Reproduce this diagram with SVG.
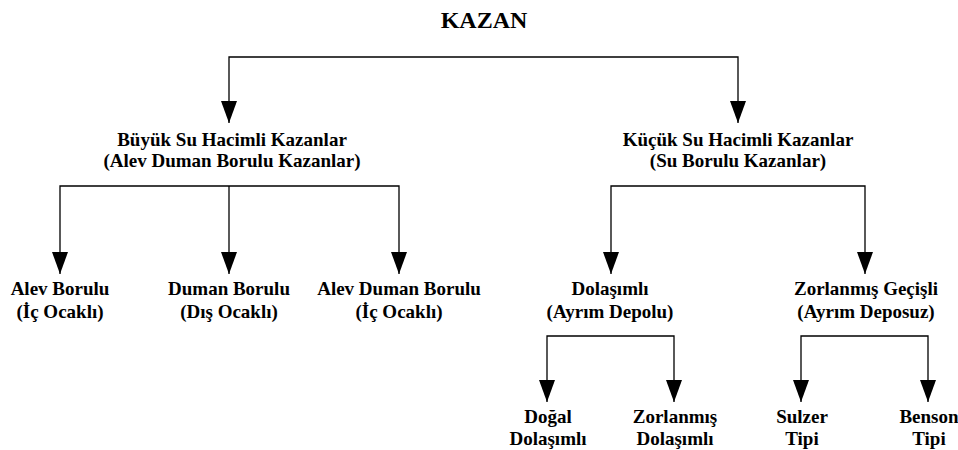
<svg xmlns="http://www.w3.org/2000/svg" width="958" height="450" viewBox="0 0 958 450">
  <style>
    .lbl { font-family: "Liberation Serif", "Times New Roman", serif; font-weight: bold; font-size: 19px; fill: #000; text-anchor: middle; }
    .title { font-size: 24px; }
    .wire { fill: none; stroke: #000; stroke-width: 1.3; marker-end: url(#head); }
  </style>
  <defs>
    <!-- solid triangular arrowhead, pointing along the path direction -->
    <marker id="head" markerUnits="userSpaceOnUse" markerWidth="22" markerHeight="16" refX="22" refY="8" orient="auto" viewBox="0 0 22 16">
      <polygon points="0,0 22,8 0,16" fill="#000"/>
    </marker>
  </defs>

  <!-- connectors -->
  <g id="connectors">
    <path class="wire" d="M484 57 H229 V123"/>
    <path class="wire" d="M484 57 H738 V123"/>

    <path class="wire" d="M229 186 H60 V274"/>
    <path class="wire" d="M229 186 V274"/>
    <path class="wire" d="M229 186 H399 V274"/>

    <path class="wire" d="M738 186 H611 V274"/>
    <path class="wire" d="M738 186 H865 V274"/>

    <path class="wire" d="M611 336 H547 V402"/>
    <path class="wire" d="M611 336 H674 V402"/>

    <path class="wire" d="M865 336 H801 V402"/>
    <path class="wire" d="M865 336 H928 V402"/>
  </g>

  <!-- nodes -->
  <g id="kazan">
    <text class="lbl title" x="484" y="28">KAZAN</text>
  </g>
  <g id="buyuk">
    <text class="lbl" x="232" y="146">Büyük Su Hacimli Kazanlar</text>
    <text class="lbl" x="232" y="167">(Alev Duman Borulu Kazanlar)</text>
  </g>
  <g id="kucuk">
    <text class="lbl" x="738" y="146">Küçük Su Hacimli Kazanlar</text>
    <text class="lbl" x="738" y="167">(Su Borulu Kazanlar)</text>
  </g>
  <g id="alev-borulu">
    <text class="lbl" x="60" y="295">Alev Borulu</text>
    <text class="lbl" x="60" y="318">(İç Ocaklı)</text>
  </g>
  <g id="duman-borulu">
    <text class="lbl" x="229" y="295">Duman Borulu</text>
    <text class="lbl" x="229" y="318">(Dış Ocaklı)</text>
  </g>
  <g id="alev-duman-borulu">
    <text class="lbl" x="399" y="295">Alev Duman Borulu</text>
    <text class="lbl" x="399" y="318">(İç Ocaklı)</text>
  </g>
  <g id="dolasimli">
    <text class="lbl" x="610" y="295">Dolaşımlı</text>
    <text class="lbl" x="610" y="318">(Ayrım Depolu)</text>
  </g>
  <g id="zorlanmis-gecisli">
    <text class="lbl" x="866" y="295">Zorlanmış Geçişli</text>
    <text class="lbl" x="866" y="318">(Ayrım Deposuz)</text>
  </g>
  <g id="dogal">
    <text class="lbl" x="548" y="423">Doğal</text>
    <text class="lbl" x="548" y="445">Dolaşımlı</text>
  </g>
  <g id="zorlanmis">
    <text class="lbl" x="675" y="423">Zorlanmış</text>
    <text class="lbl" x="675" y="445">Dolaşımlı</text>
  </g>
  <g id="sulzer">
    <text class="lbl" x="802" y="423">Sulzer</text>
    <text class="lbl" x="802" y="445">Tipi</text>
  </g>
  <g id="benson">
    <text class="lbl" x="929" y="423">Benson</text>
    <text class="lbl" x="929" y="445">Tipi</text>
  </g>
</svg>
